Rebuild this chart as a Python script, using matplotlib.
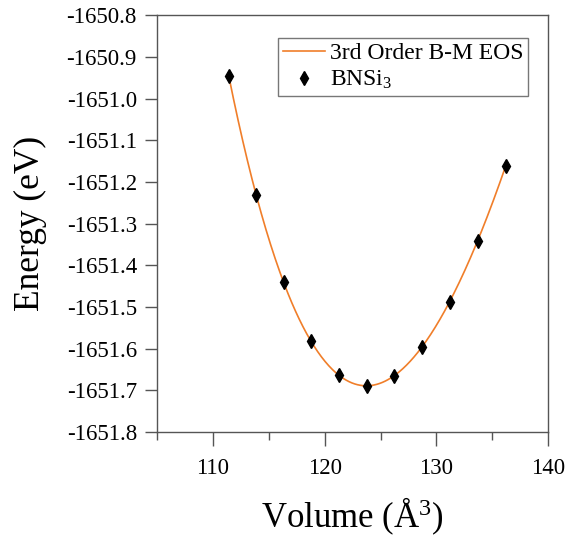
import numpy as np
import matplotlib
matplotlib.use("Agg")
import matplotlib.pyplot as plt
from matplotlib.ticker import MultipleLocator, FormatStrFormatter

plt.rcParams["font.family"] = ["Liberation Serif", "DejaVu Serif"]
plt.rcParams["mathtext.fontset"] = "custom"
plt.rcParams["mathtext.rm"] = "Liberation Serif"
plt.rcParams["mathtext.it"] = "Liberation Serif:italic"
plt.rcParams["axes.unicode_minus"] = False

# Calculated energies of BNSi3 at each cell volume
volume = [111.43, 113.85, 116.35, 118.76, 121.26, 123.77, 126.18, 128.68, 131.18, 133.69, 136.19]
energy = [-1650.946, -1651.232, -1651.440, -1651.582, -1651.663, -1651.690,
          -1651.666, -1651.596, -1651.488, -1651.342, -1651.162]

x_ticks = [110, 120, 130, 140]
y_ticks = [-1650.8, -1650.9, -1651.0, -1651.1, -1651.2, -1651.3, -1651.4,
           -1651.5, -1651.6, -1651.7, -1651.8]

V = np.array(volume)
E = np.array(energy)

# Third-order Birch-Murnaghan: E is a cubic polynomial in V^(-2/3)
coef = np.polyfit(V ** (-2.0 / 3.0), E, 3)
V_fit = np.linspace(V.min(), V.max(), 300)
E_fit = np.polyval(coef, V_fit ** (-2.0 / 3.0))

fig = plt.figure(figsize=(5.71, 5.44), dpi=100)
ax = fig.add_axes([0.275, 0.206, 0.685, 0.766])

ax.plot(V_fit, E_fit, color="#F07E2A", lw=1.2, label="3rd Order B-M EOS", zorder=2)
ax.plot(V, E, linestyle="none", marker="d", ms=7, color="black",
        label="BNSi$_3$", zorder=3)

ax.set_xlim(105, 140)
ax.set_ylim(-1651.8, -1650.8)
ax.set_xticks(x_ticks)
ax.set_yticks(y_ticks)
ax.xaxis.set_minor_locator(MultipleLocator(5))
ax.yaxis.set_major_formatter(FormatStrFormatter("%.1f"))

spine_color = "#555555"
for s in ax.spines.values():
    s.set_color(spine_color)
    s.set_linewidth(1.0)

ax.tick_params(axis="x", which="major", direction="out", length=10, width=1.0,
               color=spine_color, labelsize=16.5, pad=9)
ax.tick_params(axis="x", which="minor", direction="out", length=6, width=1.0,
               color=spine_color)
ax.tick_params(axis="y", which="major", direction="out", length=9, width=1.0,
               color=spine_color, labelsize=16.5, pad=5.5)

ax.set_xlabel("Volume (Å$^{\\mathdefault{3}}$)", fontsize=25, labelpad=12)
ax.set_ylabel("Energy (eV)", fontsize=25.5, labelpad=14)

leg = ax.legend(loc="upper left", bbox_to_anchor=(0.31, 0.945), fontsize=17,
                frameon=True, fancybox=False, handlelength=1.8, handletextpad=0.2,
                borderpad=0.2, labelspacing=0.2, borderaxespad=0)
leg.get_frame().set_edgecolor(spine_color)
leg.get_frame().set_linewidth(1.0)

fig.savefig("out.png", dpi=100)
